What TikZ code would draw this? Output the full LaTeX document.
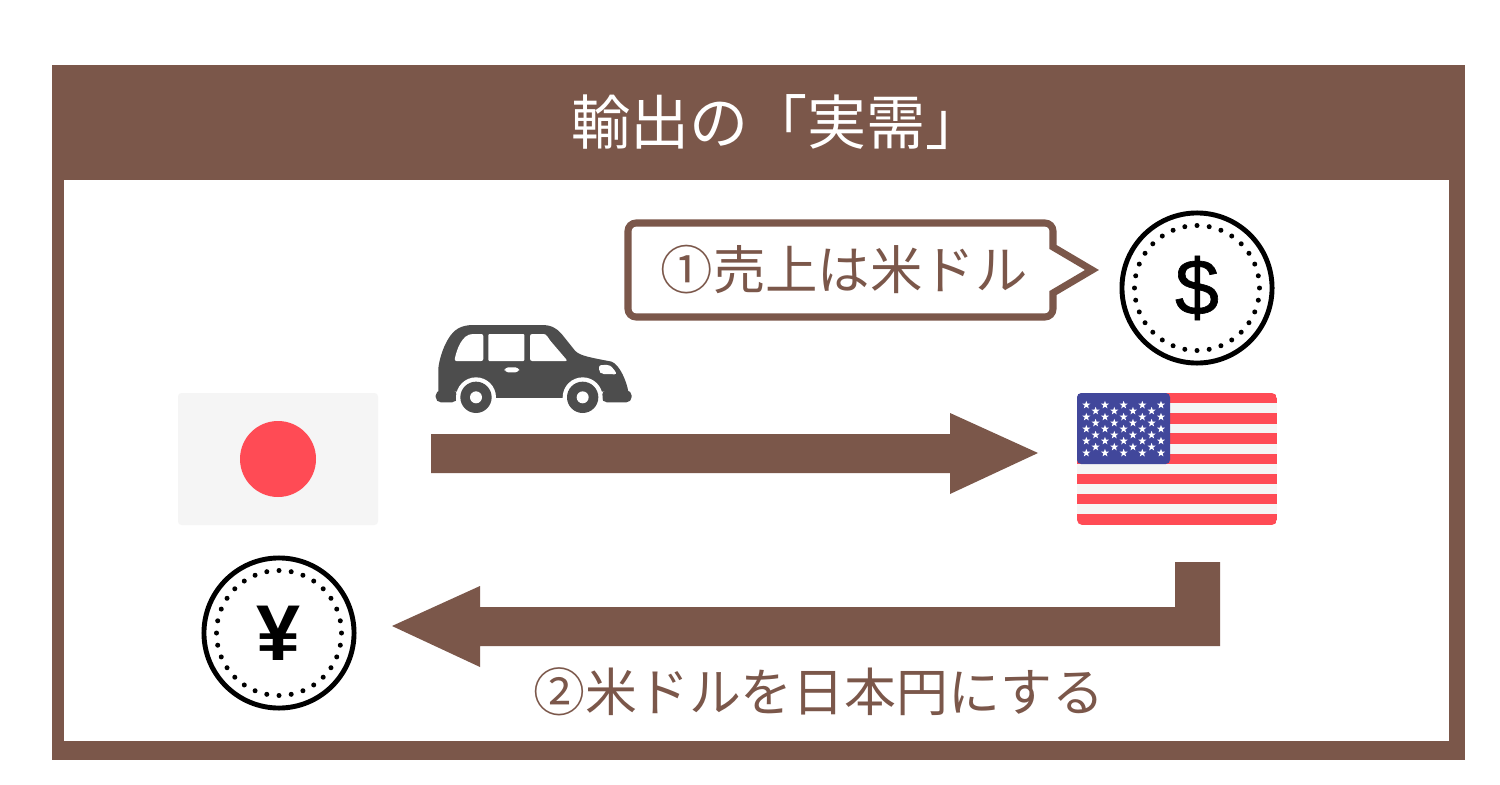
\documentclass[tikz,border=0pt]{standalone}
\usepackage{fontspec}
\usetikzlibrary{calc}
\setmainfont{Noto Sans CJK JP}
\newfontfamily\coinfont{Liberation Sans Bold}
\newfontfamily\dollarfont[FakeBold=0.8]{Liberation Sans}
\definecolor{framebrown}{HTML}{7B574A}
\definecolor{cargray}{HTML}{4D4D4D}
\definecolor{flagred}{HTML}{FF4B55}
\definecolor{flagwhite}{HTML}{F5F5F5}
\definecolor{flagblue}{HTML}{41479B}
\tikzset{
	label text/.style={text=framebrown,font=\fontsize{14.75pt}{18pt}\selectfont,inner sep=0pt},
	coin/.style={circle,draw=black,line width=1.4pt,minimum size=1.5cm,inner sep=0pt,font=\fontsize{22.5pt}{24pt}\selectfont},
	flagstar/.pic={\fill[white] (-90:4.2) -- (-54:1.7) -- (-18:4.2) -- (18:1.7) -- (54:4.2) -- (90:1.7) -- (126:4.2) -- (162:1.7) -- (198:4.2) -- (234:1.7) -- cycle;}
}
\begin{document}
\begin{tikzpicture}[x=0.01cm,y=-0.01cm]
	\useasboundingbox (0,0) rectangle (1500,785);
	\fill[white] (0,0) rectangle (1500,785);
	% frame and title
	\fill[framebrown] (52,65) rectangle (1465,760);
	\fill[white] (64,180) rectangle (1449,741);
	\node[text=white,font=\fontsize{16.8pt}{18pt}\selectfont,inner sep=0pt] (title) at (778,122){輸出の「実需」};
	% speech bubble
	\draw[framebrown,line width=2pt,line join=miter,fill=white]
		(1092,270) -- (1053,247) [rounded corners=2.3pt] -- (1053,223) -- (628,223) -- (628,317) -- (1053,317) [sharp corners] -- (1053,293) -- cycle;
	\node[label text,font=\fontsize{14.9pt}{18pt}\selectfont] (salesnote) at (844,270){①売上は米ドル};
	% coins
	\node[coin] (dollarcoin) at (1197,288){\dollarfont\$};
	\node[coin] (yencoin) at (279,633){\coinfont ¥};
	\foreach \c in {dollarcoin,yencoin} {
		\foreach \a in {0,11.25,...,349} {
			\fill ($(\c.center)+(\a:62.5)$) circle (2.5);
		}
	}
	% japanese flag
	\fill[flagwhite,rounded corners=1pt] (178,393) rectangle (378,525);
	\fill[flagred] (278,459) circle (38);
	% american flag
	\begin{scope}
		\clip[rounded corners=1.5pt] (1077,393) rectangle (1277,525);
		\fill[flagwhite] (1077,393) rectangle (1277,525);
		\foreach \i in {0,...,6} {
			\fill[flagred] (1077,393+20.2*\i) rectangle (1277,403.4+20.2*\i);
		}
	\end{scope}
	\fill[flagblue,rounded corners=1.2pt] (1077,393) rectangle (1170,464);
	\foreach \i in {0,...,4} {
		\foreach \j in {0,...,4} {
			\pic at (1086.3+18.67*\i,405+12*\j) {flagstar};
		}
	}
	\foreach \i in {0,...,3} {
		\foreach \j in {0,...,3} {
			\pic at (1095.6+18.67*\i,411+12*\j) {flagstar};
		}
	}
	% car, traced at 3x
	\begin{scope}[shift={(420,310)},scale=1/3]
		\fill[cargray,rounded corners=1.5pt] (47,241) rectangle (112,277);
		\fill[cargray,rounded corners=1.5pt] (545,241) rectangle (635,277);
		\fill[cargray] (55,245) -- (55,175) .. controls (60,130) and (85,70) .. (115,55)
			.. controls (130,47) and (145,45) .. (160,45) -- (365,45)
			.. controls (395,45) and (410,55) .. (425,72) -- (465,122)
			.. controls (480,138) and (510,142) .. (575,155)
			.. controls (600,165) and (620,215) .. (625,245) -- cycle;
		\fill[cargray] (200,240) rectangle (460,263);
		\foreach \x in {168,488} {
			\fill[white] (\x,262) circle (60);
			\fill[cargray] (\x,262) circle (47);
			\fill[white] (\x,262) circle (18);
		}
		\fill[white,rounded corners=0.6pt] (103,153) .. controls (110,120) and (125,72) .. (165,72) -- (190,72) -- (190,153) -- cycle;
		\fill[white,rounded corners=0.3pt] (205,72) rectangle (313,153);
		\fill[white,rounded corners=0.6pt] (330,72) -- (365,72) .. controls (380,72) and (385,85) .. (395,97) -- (443,153) -- (330,153) -- cycle;
		\fill[white,rounded corners=1pt] (254,172) rectangle (297,187);
		\fill[white,rounded corners=0.6pt] (537,166) -- (565,164) .. controls (575,170) and (585,182) .. (590,193) -- (545,192) -- (537,184) -- cycle;
	\end{scope}
	% arrows
	\fill[framebrown] (431,434) -- (950,434) -- (950,413) -- (1038,453) -- (950,494) -- (950,473) -- (431,473) -- cycle;
	\fill[framebrown] (1175,562) -- (1220,562) -- (1220,646) -- (480,646) -- (480,667) -- (392,626) -- (480,586) -- (480,607) -- (1175,607) -- cycle;
	\node[label text] (exchangenote) at (819,692){②米ドルを日本円にする};
\end{tikzpicture}
\end{document}
